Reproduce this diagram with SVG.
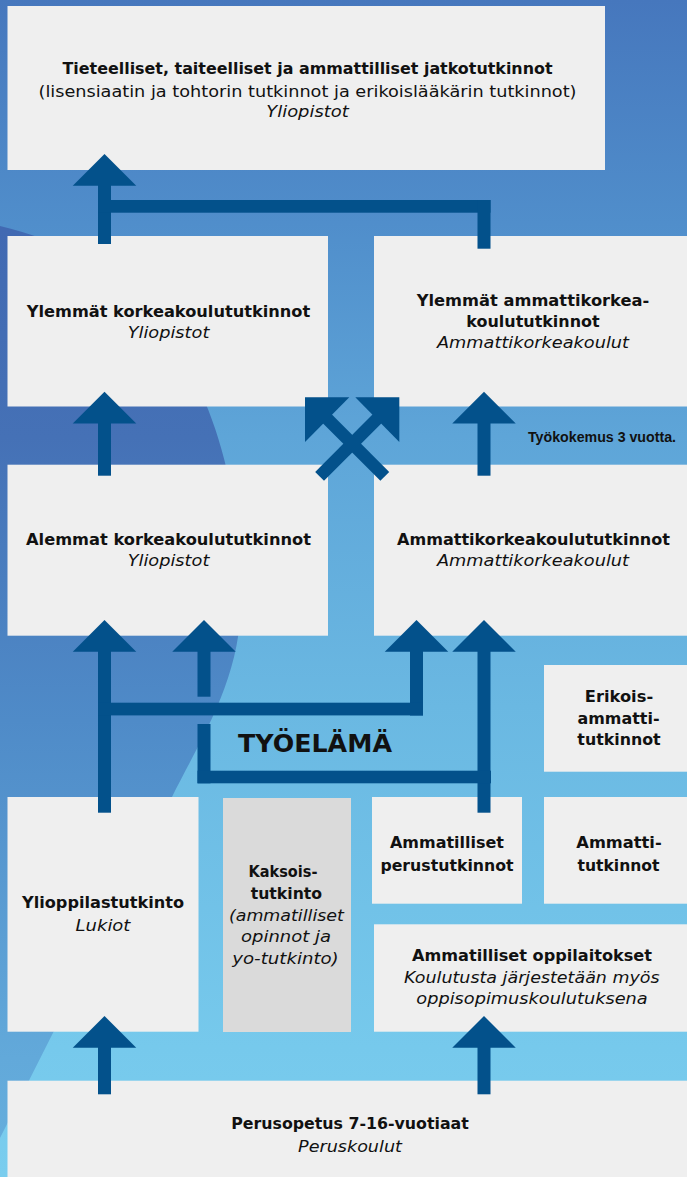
<svg xmlns="http://www.w3.org/2000/svg" xmlns:xlink="http://www.w3.org/1999/xlink" width="687" height="1177" viewBox="0 0 687 1177">
<defs>
<linearGradient id="bg" gradientUnits="userSpaceOnUse" x1="0" y1="0" x2="0" y2="1177">
<stop offset="0" stop-color="#4677bd"/>
<stop offset="0.19" stop-color="#508ecb"/>
<stop offset="0.37" stop-color="#5ea5d8"/>
<stop offset="0.6" stop-color="#6ab8e2"/>
<stop offset="0.89" stop-color="#76c9ec"/>
<stop offset="1" stop-color="#7acdee"/>
</linearGradient>
<linearGradient id="ov" gradientUnits="userSpaceOnUse" x1="0" y1="228" x2="0" y2="1140">
<stop offset="0" stop-color="#4169b2"/>
<stop offset="0.23" stop-color="#4571b6"/>
<stop offset="0.54" stop-color="#4f8bc8"/>
<stop offset="0.91" stop-color="#62a9da"/>
<stop offset="1" stop-color="#65addc"/>
</linearGradient>
<polygon id="ah" points="0,0 31.75,31.75 -31.75,31.75"/>
</defs>
<style>
.box{fill:#efefef}
.box2{fill:#dadada}
.con{fill:#03518b}
.bar{stroke:#03518b;stroke-width:12.5;stroke-linecap:butt;fill:none}
text{font-family:'DejaVu Sans','Liberation Sans',sans-serif;fill:#111;text-anchor:middle}
.b{font-weight:bold;font-size:16.5px}
.r{font-size:16px}
.i{font-size:16px;font-style:italic}
.big{font-weight:bold;font-size:25.5px}
.sm{font-family:'Liberation Sans',Arial,sans-serif;font-weight:bold;font-size:14px}
</style>
<rect x="0" y="0" width="687" height="1177" fill="url(#bg)"/>
<path d="M0,226 C170,265 241,420 241,600 C241,680 200,740 172,797 L0,1138 Z" fill="url(#ov)"/>

<g id="n-jatko">
<rect class="box" x="7.5" y="6" width="597.5" height="164"/>
<text class="b" x="307.5" y="74" textLength="490" lengthAdjust="spacingAndGlyphs">Tieteelliset, taiteelliset ja ammattilliset jatkotutkinnot</text>
<text class="r" x="307.5" y="96.5" textLength="538" lengthAdjust="spacingAndGlyphs">(lisensiaatin ja tohtorin tutkinnot ja erikoislääkärin tutkinnot)</text>
<text class="i" x="307.5" y="117" textLength="82.5" lengthAdjust="spacingAndGlyphs">Yliopistot</text>
</g>

<g id="n-ylemmat-yo">
<rect class="box" x="7.5" y="236" width="320.5" height="170.5"/>
<text class="b" x="168.5" y="316.7" textLength="283.5" lengthAdjust="spacingAndGlyphs">Ylemmät korkeakoulututkinnot</text>
<text class="i" x="168.5" y="337.5" textLength="81.7" lengthAdjust="spacingAndGlyphs">Yliopistot</text>
</g>

<g id="n-ylemmat-amk">
<rect class="box" x="374" y="236" width="318" height="170.5"/>
<text class="b" x="533" y="305.7" textLength="232.6" lengthAdjust="spacingAndGlyphs">Ylemmät ammattikorkea-</text>
<text class="b" x="533" y="326.7" textLength="133.3" lengthAdjust="spacingAndGlyphs">koulututkinnot</text>
<text class="i" x="533" y="348.3" textLength="192" lengthAdjust="spacingAndGlyphs">Ammattikorkeakoulut</text>
</g>

<g id="n-alemmat-yo">
<rect class="box" x="7.5" y="464.7" width="320.5" height="171"/>
<text class="b" x="168.5" y="545" textLength="285" lengthAdjust="spacingAndGlyphs">Alemmat korkeakoulututkinnot</text>
<text class="i" x="168.5" y="566" textLength="81.7" lengthAdjust="spacingAndGlyphs">Yliopistot</text>
</g>

<g id="n-amk">
<rect class="box" x="374" y="464.7" width="318" height="171"/>
<text class="b" x="533.5" y="545" textLength="273" lengthAdjust="spacingAndGlyphs">Ammattikorkeakoulututkinnot</text>
<text class="i" x="533" y="566" textLength="192" lengthAdjust="spacingAndGlyphs">Ammattikorkeakoulut</text>
</g>

<g id="n-erikois">
<rect class="box" x="544" y="665" width="148" height="106.7"/>
<text class="b" x="619" y="701.7" textLength="68.3" lengthAdjust="spacingAndGlyphs">Erikois-</text>
<text class="b" x="618.5" y="723.5" textLength="82" lengthAdjust="spacingAndGlyphs">ammatti-</text>
<text class="b" x="619" y="745.3" textLength="83.3" lengthAdjust="spacingAndGlyphs">tutkinnot</text>
</g>

<g id="n-yo">
<rect class="box" x="7.5" y="797" width="191" height="234.7"/>
<text class="b" x="103" y="908.3" textLength="162" lengthAdjust="spacingAndGlyphs">Ylioppilastutkinto</text>
<text class="i" x="103" y="930.7" textLength="54.8" lengthAdjust="spacingAndGlyphs">Lukiot</text>
</g>

<g id="n-kaksois">
<rect class="box2" x="223" y="798" width="128" height="234"/>
<text class="b" x="283" y="876.7" textLength="68.8" lengthAdjust="spacingAndGlyphs">Kaksois-</text>
<text class="b" x="286.4" y="899" textLength="71.4" lengthAdjust="spacingAndGlyphs">tutkinto</text>
<text class="i" x="286.4" y="920.5" textLength="115" lengthAdjust="spacingAndGlyphs">(ammatilliset</text>
<text class="i" x="286" y="942.3" textLength="90" lengthAdjust="spacingAndGlyphs">opinnot ja</text>
<text class="i" x="285.5" y="964" textLength="106.4" lengthAdjust="spacingAndGlyphs">yo-tutkinto)</text>
</g>

<g id="n-perustutkinnot">
<rect class="box" x="372" y="797" width="150" height="106.7"/>
<text class="b" x="447" y="848.3" textLength="114" lengthAdjust="spacingAndGlyphs">Ammatilliset</text>
<text class="b" x="447" y="870.7" textLength="133.2" lengthAdjust="spacingAndGlyphs">perustutkinnot</text>
</g>

<g id="n-ammattitutkinnot">
<rect class="box" x="544" y="797" width="148" height="106.7"/>
<text class="b" x="619" y="848.3" textLength="85.4" lengthAdjust="spacingAndGlyphs">Ammatti-</text>
<text class="b" x="618.5" y="870.7" textLength="82" lengthAdjust="spacingAndGlyphs">tutkinnot</text>
</g>

<g id="n-oppilaitokset">
<rect class="box" x="374" y="924.3" width="318" height="107.4"/>
<text class="b" x="532" y="961" textLength="240" lengthAdjust="spacingAndGlyphs">Ammatilliset oppilaitokset</text>
<text class="i" x="531.8" y="983.3" textLength="255.5" lengthAdjust="spacingAndGlyphs">Koulutusta järjestetään myös</text>
<text class="i" x="532" y="1004.3" textLength="231.4" lengthAdjust="spacingAndGlyphs">oppisopimuskoulutuksena</text>
</g>

<g id="n-perusopetus">
<rect class="box" x="7.5" y="1080.7" width="685" height="100"/>
<text class="b" x="350" y="1129.3" textLength="237.5" lengthAdjust="spacingAndGlyphs">Perusopetus 7-16-vuotiaat</text>
<text class="i" x="350" y="1151.7" textLength="103.8" lengthAdjust="spacingAndGlyphs">Peruskoulut</text>
</g>

<g id="connectors">
<use xlink:href="#ah" href="#ah" class="con" x="104.5" y="154"/>
<rect class="con" x="98" y="185" width="13" height="59"/>
<rect class="con" x="98" y="200" width="392.5" height="12.7"/>
<rect class="con" x="477.5" y="200" width="13" height="48.7"/>
<use xlink:href="#ah" href="#ah" class="con" x="104.5" y="391.7"/>
<rect class="con" x="98" y="422" width="13" height="53.7"/>
<use xlink:href="#ah" href="#ah" class="con" x="484" y="391.7"/>
<rect class="con" x="477.5" y="422" width="13" height="53.7"/>
<polygon class="con" points="305,397.3 349.3,397.3 305,442"/>
<polygon class="con" points="355.3,397.3 399.3,397.3 399.3,442"/>
<line class="bar" x1="326.5" y1="418" x2="384.8" y2="476.3"/>
<line class="bar" x1="377.9" y1="418" x2="319.6" y2="476.3"/>
<use xlink:href="#ah" href="#ah" class="con" x="104.5" y="620"/>
<rect class="con" x="98" y="651" width="13" height="161.7"/>
<use xlink:href="#ah" href="#ah" class="con" x="204" y="620"/>
<rect class="con" x="197.5" y="651" width="13" height="45.7"/>
<use xlink:href="#ah" href="#ah" class="con" x="416.5" y="620"/>
<rect class="con" x="410" y="651" width="13" height="64.5"/>
<use xlink:href="#ah" href="#ah" class="con" x="484" y="620"/>
<rect class="con" x="477.5" y="651" width="13" height="161.7"/>
<rect class="con" x="98" y="702.7" width="325" height="12.7"/>
<rect class="con" x="197.5" y="724" width="13" height="59.3"/>
<rect class="con" x="197.5" y="770.7" width="293.5" height="12.6"/>
<use xlink:href="#ah" href="#ah" class="con" x="104.5" y="1016"/>
<rect class="con" x="98" y="1047" width="13" height="47.3"/>
<use xlink:href="#ah" href="#ah" class="con" x="484" y="1016"/>
<rect class="con" x="477.5" y="1047" width="13" height="47.3"/>
</g>

<g id="l-tyoelama">
<text class="big" x="315" y="751.7" textLength="154" lengthAdjust="spacingAndGlyphs">TYÖELÄMÄ</text>
</g>
<g id="l-tyokokemus">
<text class="sm" x="602" y="441.7" textLength="148" lengthAdjust="spacingAndGlyphs">Työkokemus 3 vuotta.</text>
</g>
</svg>
